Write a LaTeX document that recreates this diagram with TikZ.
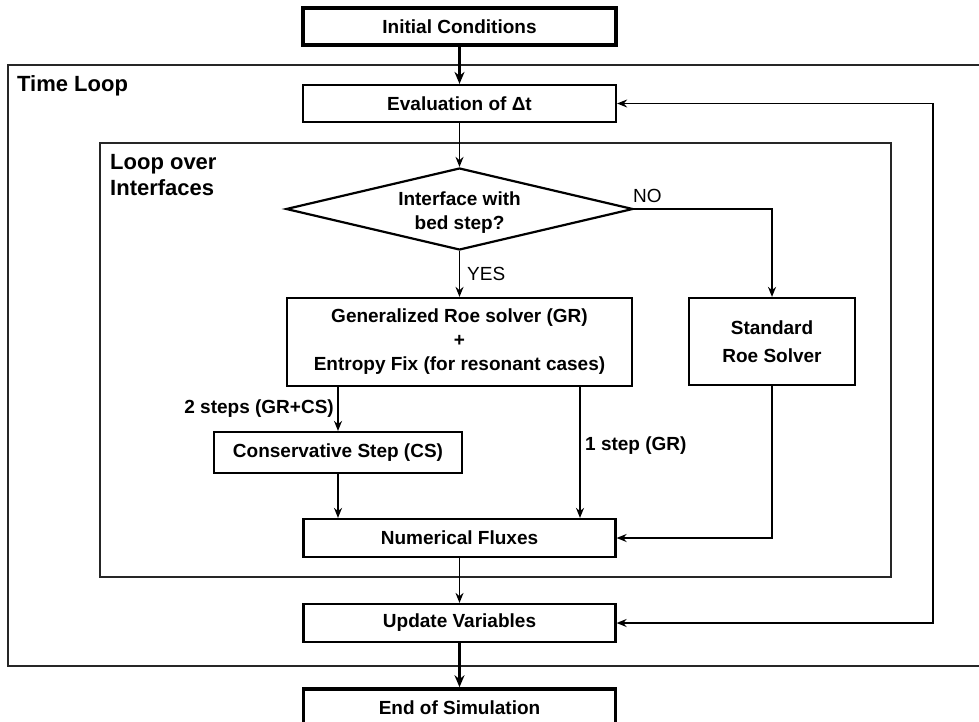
\documentclass[tikz,border=0pt]{standalone}
\usepackage{fontspec}
\setmainfont{Liberation Sans}
\usetikzlibrary{arrows.meta,shapes.geometric,calc}
\begin{document}
\begin{tikzpicture}[x=1pt,y=-1pt,
  box/.style={draw=black,line width=2.2pt,inner sep=0pt,align=center,
    font=\fontsize{19}{24}\selectfont\bfseries},
  thickbox/.style={box,line width=3.6pt},
  arr/.style={draw=black,line width=1.6pt,-{Stealth[length=10pt,width=8pt]}},
  darr/.style={draw=black,line width=1.6pt,{Stealth[length=10pt,width=8pt]}-{Stealth[length=10pt,width=8pt]}},
  thickarr/.style={draw=black,line width=3.4pt,-{Stealth[length=12pt,width=10pt]}},
  lbl/.style={inner sep=0pt,font=\fontsize{19}{24}\selectfont\bfseries},
  rlbl/.style={inner sep=0pt,font=\fontsize{19}{24}\selectfont},
  frame/.style={draw=black!85,line width=1.6pt},
  ttl/.style={inner sep=0pt,anchor=base west,align=left,font=\fontsize{22}{26}\selectfont\bfseries}]
\useasboundingbox (0,0) rectangle (979,722);
% frames
\draw[frame] (985,65) -- (8,65) -- (8,666) -- (985,666);
\draw[frame] (100,143) rectangle (891,577);
\node[ttl] (tl) at (17,92) {Time Loop};
\node[ttl] (li) at (110,170) {Loop over};
\node[ttl] (li2) at (110,196) {Interfaces};
% nodes
\node[thickbox,minimum width=313,minimum height=37] (init) at (459.5,26.5) {Initial Conditions};
\node[box,minimum width=313,minimum height=37] (eval) at (459.5,103.5) {Evaluation of Δt};
\node[draw=black,line width=2.2pt,diamond,inner sep=0pt,minimum width=347,minimum height=82] (dia) at (459.5,209) {};
\node[lbl,align=center] (diat) at (459.5,213) {Interface with\\bed step?};
\node[box,minimum width=345,minimum height=88] (gr) at (459.5,342) {Generalized Roe solver (GR)\\+\\Entropy Fix (for resonant cases)};
\node[box,minimum width=166,minimum height=87,font=\fontsize{19}{28}\selectfont\bfseries] (std) at (772,341.5) {Standard\\Roe Solver};
\node[box,minimum width=248,minimum height=41] (cs) at (338,452.5) {Conservative Step (CS)};
\node[box,minimum width=312,minimum height=38] (nf) at (459.5,538) {Numerical Fluxes};
\node[box,minimum width=312,minimum height=38] (uv) at (459.5,623) {Update Variables};
\node[thickbox,minimum width=312,minimum height=38] (end) at (459.5,708) {End of Simulation};
% labels
\node[rlbl,anchor=west] (no) at (633,195.5) {NO};
\node[rlbl,anchor=west] (yes) at (467,273.5) {YES};
\node[lbl,anchor=east] (two) at (334,409) {2 steps (GR+CS)};
\node[lbl,anchor=west] (one) at (585,445.5) {1 step (GR)};
% helper coordinates
\coordinate (onex) at (580,0);
\coordinate (nocorner) at (std.north |- dia.east);
\coordinate (stdcorner) at (std.south |- nf.east);
\coordinate (fbx) at (933,0);
% connectors
\draw[thickarr] (init) -- (eval);
\draw[arr] (eval) -- (dia.north);
\draw[arr] (dia.south) -- (gr.north);
\draw[arr] (dia.east) -- (nocorner) -- (std.north);
\draw[arr] (gr.south -| cs.north) -- (cs.north);
\draw[arr] (gr.south -| onex) -- (nf.north -| onex);
\draw[arr] (cs.south) -- (nf.north -| cs.south);
\draw[arr] (std.south) -- (stdcorner) -- (nf.east);
\draw[arr] (nf) -- (uv);
\draw[darr] (uv.east) -- (uv.east -| fbx) -- (eval.east -| fbx) -- (eval.east);
\draw[thickarr] (uv) -- (end);
\end{tikzpicture}
\end{document}
